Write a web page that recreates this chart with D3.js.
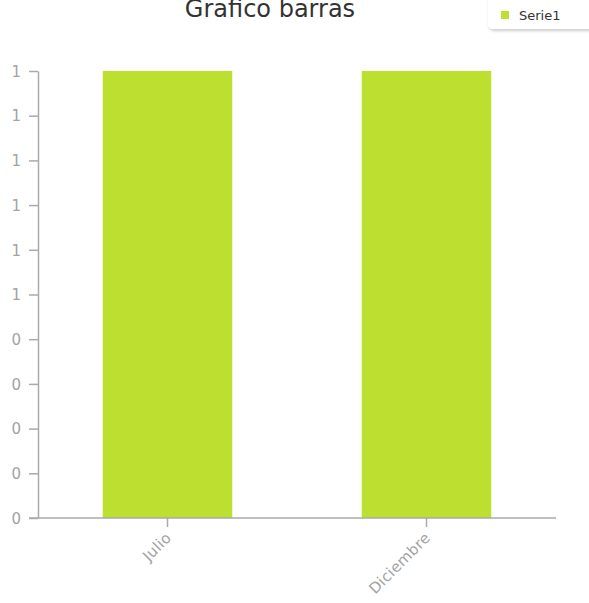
<!DOCTYPE html>
<html><head><meta charset="utf-8">
<script src="https://cdn.jsdelivr.net/npm/d3@7"></script>
<style>body{margin:0;background:#fff;} svg{display:block;font-family:"DejaVu Sans",Verdana,sans-serif;}
.tl{font-size:15px;fill:#a3a3a3;font-family:"DejaVu Sans",Verdana,sans-serif;}
.xl{font-size:15px;fill:#a3a3a3;font-family:"DejaVu Sans",Verdana,sans-serif;letter-spacing:0.3px;}</style>
</head><body>
<svg id="c" width="589" height="603"></svg>
<script>
const categories = ["Julio", "Diciembre"];
const values = [1, 1];
const yTicks = [0, 0.1, 0.2, 0.3, 0.4, 0.5, 0.6, 0.7, 0.8, 0.9, 1.0];
const seriesName = "Serie1";
const title = "Grafico barras";

const svg = d3.select("#c");
const x0 = 38, x1 = 556, yTop = 71, yBot = 518;
const x = d3.scaleBand().domain(categories).range([x0, x1]).paddingInner(0.5).paddingOuter(0.25);
const y = d3.scaleLinear().domain([0, 1]).range([yBot, yTop]);

svg.append("text").attr("x", 270).attr("y", 17).attr("text-anchor", "middle")
  .style("font-size", "24px").attr("fill", "#333").text(title);

// bars
svg.selectAll("rect.bar").data(values).enter().append("rect").attr("class","bar")
  .attr("x", (d,i)=>x(categories[i])).attr("width", x.bandwidth())
  .attr("y", d=>y(d)).attr("height", d=>yBot - y(d)).attr("fill", "#bde030");

// y axis
const ya = svg.append("g").attr("transform", `translate(${x0},0)`)
  .call(d3.axisLeft(y).tickValues(yTicks).tickFormat(d=>String(Math.round(d+1e-9))).tickSize(9).tickSizeOuter(0).tickPadding(8));
ya.attr("font-size", null).attr("font-family", null);
ya.select(".domain").attr("stroke", "#aaa").attr("stroke-width", 1.5);
ya.selectAll(".tick line").attr("stroke", "#aaa").attr("stroke-width", 1.5);
ya.selectAll(".tick text").attr("class", "tl").attr("fill", null).attr("dy", "0.35em");

// x axis
const xa = svg.append("g").attr("transform", `translate(0,${yBot})`)
  .call(d3.axisBottom(x).tickSize(9).tickSizeOuter(0));
xa.attr("font-size", null).attr("font-family", null);
xa.select(".domain").attr("stroke", "#aaa").attr("stroke-width", 1.5).attr("d", `M${x0-9},0H${x1}`);
xa.selectAll(".tick line").attr("stroke", "#aaa").attr("stroke-width", 1.5);
xa.selectAll(".tick text").attr("class", "xl").attr("fill", null)
  .attr("text-anchor", "end").attr("dy", "0.35em")
  .attr("transform", "translate(1,17) rotate(-45)").attr("x", 0).attr("y", 0);

// legend
const defs = svg.append("defs");
const f = defs.append("filter").attr("id","sh").attr("x","-20%").attr("y","-20%").attr("width","140%").attr("height","160%");
f.append("feDropShadow").attr("dx",1).attr("dy",2).attr("stdDeviation",1.5).attr("flood-color","#000").attr("flood-opacity",0.2);
const lg = svg.append("g");
lg.append("rect").attr("x", 488).attr("y", -5).attr("width", 110).attr("height", 34).attr("rx", 5)
  .attr("fill", "#fff").attr("filter", "url(#sh)");
lg.append("rect").attr("x", 501).attr("y", 11).attr("width", 8).attr("height", 8).attr("fill", "#bde030");
lg.append("text").attr("x", 519).attr("y", 20).style("font-size", "13px").attr("fill", "#333")
  .text(seriesName);
</script>
</body></html>
